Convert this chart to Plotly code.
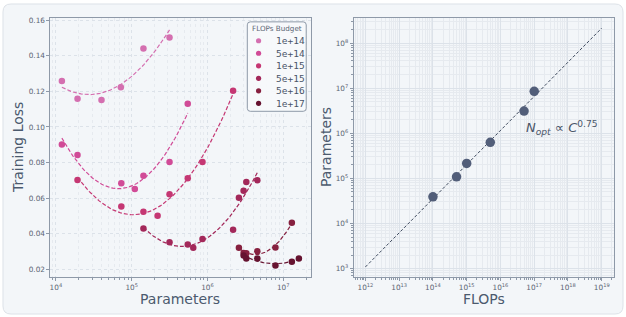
import numpy as np
import plotly.graph_objects as go
from plotly.subplots import make_subplots

W, H = 626, 317

# ---------------- data ----------------
budgets = ["1e+14", "5e+14", "1e+15", "5e+15", "5e+16", "1e+17"]
colors = ["#d46fb0", "#d14b97", "#c53773", "#a3285a", "#86203f", "#661330"]

params_1e14 = [1.2e4, 1.93e4, 4.0e4, 7.2e4, 1.43e5, 3.16e5]
loss_1e14 = [0.1259, 0.1159, 0.1151, 0.1223, 0.1441, 0.1503]
params_5e14 = [1.2e4, 1.93e4, 7.3e4, 1.1e5, 1.43e5, 3.16e5, 5.5e5]
loss_5e14 = [0.0902, 0.0842, 0.0684, 0.0652, 0.0726, 0.0803, 0.1131]
params_1e15 = [1.93e4, 7.3e4, 1.43e5, 2.2e5, 3.16e5, 5.5e5, 8.6e5, 2.18e6]
loss_1e15 = [0.0702, 0.0553, 0.0523, 0.0501, 0.0622, 0.0712, 0.0803, 0.1203]
params_5e15 = [1.43e5, 3.16e5, 5.5e5, 6.5e5, 8.6e5, 2.18e6, 2.6e6, 3.0e6, 3.26e6, 4.55e6]
loss_5e15 = [0.0430, 0.0352, 0.0339, 0.0321, 0.0371, 0.0423, 0.0602, 0.0641, 0.0691, 0.0701]
params_5e16 = [2.6e6, 3.0e6, 3.26e6, 4.55e6, 7.9e6, 1.3e7]
loss_5e16 = [0.0321, 0.0291, 0.0290, 0.0302, 0.0322, 0.0462]
params_1e17 = [3.0e6, 3.26e6, 4.55e6, 7.9e6, 1.3e7, 1.61e7]
loss_1e17 = [0.0278, 0.0261, 0.0261, 0.0222, 0.0242, 0.0261]

flops_budget = [1e14, 5e14, 1e15, 5e15, 5e16, 1e17]
n_opt = [3.9e4, 1.08e5, 2.15e5, 6.3e5, 3.1e6, 8.5e6]

left_xtickvals = [1e4, 1e5, 1e6, 1e7]
left_xticktext = ["10<sup>4</sup>", "10<sup>5</sup>", "10<sup>6</sup>", "10<sup>7</sup>"]
left_ytickvals = [0.02, 0.04, 0.06, 0.08, 0.10, 0.12, 0.14, 0.16]
left_yticktext = ["0.02", "0.04", "0.06", "0.08", "0.10", "0.12", "0.14", "0.16"]
right_xtickvals = [1e12, 1e13, 1e14, 1e15, 1e16, 1e17, 1e18, 1e19]
right_xticktext = ["10<sup>%d</sup>" % e for e in range(12, 20)]
right_ytickvals = [1e3, 1e4, 1e5, 1e6, 1e7, 1e8]
right_yticktext = ["10<sup>%d</sup>" % e for e in range(3, 9)]

series = [
    (params_1e14, loss_1e14), (params_5e14, loss_5e14), (params_1e15, loss_1e15),
    (params_5e15, loss_5e15), (params_5e16, loss_5e16), (params_1e17, loss_1e17),
]

# ---------------- figure ----------------
fig = make_subplots(rows=1, cols=2)

for (px, ly), col, name in zip(series, colors, budgets):
    lx = np.log10(px)
    coef = np.polyfit(lx, ly, 2)
    xs = np.linspace(lx.min(), lx.max(), 80)
    fig.add_trace(go.Scatter(x=10 ** xs, y=np.polyval(coef, xs), mode="lines",
                             line=dict(color=col, width=1.2, dash="4px,2px"),
                             showlegend=False, hoverinfo="skip"), row=1, col=1)
    fig.add_trace(go.Scatter(x=px, y=ly, mode="markers", name=name,
                             marker=dict(color=col, size=6.5), showlegend=False),
                  row=1, col=1)

lc = np.log10(flops_budget)
ln = np.log10(n_opt)
k, b = np.polyfit(lc, ln, 1)
cx = np.linspace(12, 19, 50)
fig.add_trace(go.Scatter(x=10 ** cx, y=10 ** (k * cx + b), mode="lines",
                         line=dict(color="#3e4a5e", width=1, dash="3px,2px"),
                         showlegend=False, hoverinfo="skip"), row=1, col=2)
fig.add_trace(go.Scatter(x=flops_budget, y=n_opt, mode="markers",
                         marker=dict(color="#525e79", size=9.5), showlegend=False),
              row=1, col=2)

# ---------------- axes ----------------
def px2x(p):
    return p / W

def px2y(p):
    return 1 - p / H

tickfont = dict(family="DejaVu Sans", size=7.3, color="#5b6574")
linecol = "#8e99a8"
gmaj = "#dce2e9"
gmin = "#e6eaef"

def log_minor(e0, e1):
    return [float(m) * 10.0 ** e for e in range(e0, e1) for m in range(2, 10)]

common = dict(showline=True, mirror=True, linecolor=linecol, linewidth=1,
              ticks="outside", ticklen=3, tickcolor=linecol, tickfont=tickfont,
              zeroline=False)

fig.update_xaxes(type="log", range=[3.928, 7.36], domain=[px2x(49.5), px2x(310)],
                 tickmode="array", tickvals=left_xtickvals, ticktext=left_xticktext,
                 showgrid=True, gridcolor=gmaj, griddash="dot", gridwidth=1,
                 minor=dict(tickmode="array", tickvals=log_minor(3, 8), ticks="outside",
                            ticklen=2, tickcolor=linecol, showgrid=True,
                            gridcolor=gmin, griddash="dot", gridwidth=0.8),
                 row=1, col=1, **common)
fig.update_yaxes(range=[0.0157, 0.1613], domain=[px2y(276.7), px2y(16)],
                 tickmode="array", tickvals=left_ytickvals, ticktext=left_yticktext,
                 showgrid=True, gridcolor=gmaj, griddash="dot", gridwidth=1,
                 row=1, col=1, **common)
fig.update_xaxes(type="log", range=[11.654, 19.364], domain=[px2x(353.3), px2x(614)],
                 tickmode="array", tickvals=right_xtickvals, ticktext=right_xticktext,
                 showgrid=True, gridcolor=gmaj, gridwidth=0.8,
                 minor=dict(tickmode="array", tickvals=log_minor(11, 20), ticks="outside",
                            ticklen=2, tickcolor=linecol, showgrid=True,
                            gridcolor=gmin, gridwidth=0.6),
                 row=1, col=2, **common)
fig.update_yaxes(type="log", range=[2.815, 8.557], domain=[px2y(276.7), px2y(16)],
                 tickmode="array", tickvals=right_ytickvals, ticktext=right_yticktext,
                 showgrid=True, gridcolor=gmaj, gridwidth=0.8,
                 minor=dict(tickmode="array", tickvals=log_minor(2, 9), ticks="outside",
                            ticklen=2, tickcolor=linecol, showgrid=True,
                            gridcolor=gmin, gridwidth=0.6),
                 row=1, col=2, **common)

# ---------------- card background ----------------
def rounded_rect(x0, y0, x1, y1, r):
    X = lambda p: p / W
    Y = lambda p: 1 - p / H
    return (f"M {X(x0 + r)},{Y(y0)} L {X(x1 - r)},{Y(y0)} Q {X(x1)},{Y(y0)} {X(x1)},{Y(y0 + r)} "
            f"L {X(x1)},{Y(y1 - r)} Q {X(x1)},{Y(y1)} {X(x1 - r)},{Y(y1)} "
            f"L {X(x0 + r)},{Y(y1)} Q {X(x0)},{Y(y1)} {X(x0)},{Y(y1 - r)} "
            f"L {X(x0)},{Y(y0 + r)} Q {X(x0)},{Y(y0)} {X(x0 + r)},{Y(y0)} Z")

shapes = [dict(type="path", xref="paper", yref="paper", layer="below",
               path=rounded_rect(2, 2, 623, 314, 8),
               fillcolor="#f3f6f9", line=dict(color="#dde2e8", width=1))]

# custom legend (box, markers, texts)
shapes.append(dict(type="path", xref="paper", yref="paper", layer="above",
                   path=rounded_rect(246.7, 20, 305.7, 110, 3),
                   fillcolor="rgba(247,249,251,0.9)", line=dict(color=linecol, width=1)))
annotations = [dict(text="FLOPs Budget", x=px2x(276.2), y=px2y(26.7), xref="paper", yref="paper",
                    showarrow=False, xanchor="center", yanchor="middle",
                    font=dict(family="DejaVu Sans", size=7.2, color="#5b6574"))]
for i, (name, col) in enumerate(zip(budgets, colors)):
    yc = 39 + i * 12.6
    shapes.append(dict(type="circle", xref="paper", yref="paper", layer="above",
                       x0=px2x(258 - 2.6), x1=px2x(258 + 2.6), y0=px2y(yc + 2.6), y1=px2y(yc - 2.6),
                       fillcolor=col, line=dict(width=0)))
    annotations.append(dict(text=name, x=px2x(273), y=px2y(yc), xref="paper", yref="paper",
                            showarrow=False, xanchor="left", yanchor="middle",
                            font=dict(family="DejaVu Sans Mono", size=9.5, color="#4a5568")))

titlefont = dict(family="DejaVu Sans", size=14, color="#4b5a6e")
annotations += [
    dict(text="Parameters", x=px2x(179.7), y=px2y(298.5), xref="paper", yref="paper",
         showarrow=False, xanchor="center", yanchor="middle", font=titlefont),
    dict(text="Training Loss", x=px2x(17), y=px2y(146), xref="paper", yref="paper",
         showarrow=False, xanchor="center", yanchor="middle", textangle=-90, font=titlefont),
    dict(text="FLOPs", x=px2x(484), y=px2y(298.5), xref="paper", yref="paper",
         showarrow=False, xanchor="center", yanchor="middle", font=titlefont),
    dict(text="Parameters", x=px2x(325.5), y=px2y(146), xref="paper", yref="paper",
         showarrow=False, xanchor="center", yanchor="middle", textangle=-90, font=titlefont),
    dict(text="<i>N</i><sub><i>opt</i></sub> ∝ <i>C</i><sup>0.75</sup>",
         x=px2x(524), y=px2y(127), xref="paper", yref="paper",
         showarrow=False, xanchor="left", yanchor="middle",
         font=dict(family="DejaVu Sans", size=13, color="#4a5568")),
]

fig.update_layout(width=W, height=H, margin=dict(l=0, r=0, t=0, b=0),
                  paper_bgcolor="white", plot_bgcolor="#f5f7fa",
                  shapes=shapes, annotations=annotations, showlegend=False)

fig.write_html("out.html", config={"displayModeBar": False},
               post_script="document.body.style.margin='0';document.body.style.overflow='hidden';")
